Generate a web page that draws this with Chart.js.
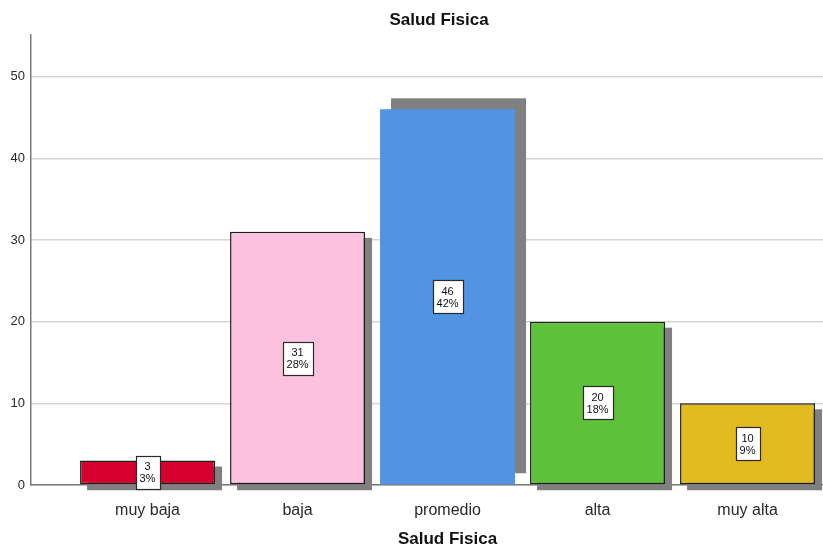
<!DOCTYPE html>
<html>
<head>
<meta charset="utf-8">
<title>Salud Fisica</title>
<script src="https://cdn.jsdelivr.net/npm/chart.js@4/dist/chart.umd.min.js"></script>
<style>
  html, body { margin: 0; padding: 0; background: #ffffff; }
  canvas { display: block; }
</style>
</head>
<body>
<canvas id="c" width="823" height="549"></canvas>
<script>
// Frequencies of the "Salud Fisica" variable
const categories = ['muy baja', 'baja', 'promedio', 'alta', 'muy alta'];
const counts = [3, 31, 46, 20, 10];
const yTicks = [0, 10, 20, 30, 40, 50];
const chartTitle = 'Salud Fisica';
const xAxisTitle = 'Salud Fisica';

// Styling
const barColors = ['#D6002F', '#FDC1E0', '#5393E3', '#5DC239', '#E1BB1F'];
const barBorderWidths = [1.5, 1.5, 0, 1.5, 1.5];
const shadowOffsets = [[7, 6], [7, 6], [11, -11], [7, 6], [7, 6]];
const FONT = '"Liberation Sans", Arial, Helvetica, sans-serif';

const total = counts.reduce((a, b) => a + b, 0);
const percentLabels = counts.map(c => Math.round(c / total * 100) + '%');
const points = categories.map((_, i) => ({ x: i, y: counts[i] }));

// Gray drop shadow behind every bar
const barShadows = {
  id: 'barShadows',
  beforeDatasetsDraw(chart) {
    const ctx = chart.ctx;
    const meta = chart.getDatasetMeta(0);
    ctx.save();
    ctx.fillStyle = '#808080';
    meta.data.forEach((el, i) => {
      const p = el.getProps(['x', 'y', 'base', 'width'], true);
      const [dx, dy] = shadowOffsets[i];
      ctx.fillRect(p.x - p.width / 2 + dx, p.y + dy, p.width, p.base - p.y);
    });
    ctx.restore();
  }
};

// Boxed count / percent labels in the middle of each bar
const valueBoxes = {
  id: 'valueBoxes',
  afterDatasetsDraw(chart) {
    const ctx = chart.ctx;
    const meta = chart.getDatasetMeta(0);
    ctx.save();
    ctx.font = '11px ' + FONT;
    ctx.textAlign = 'center';
    ctx.textBaseline = 'middle';
    const lh = 12;
    meta.data.forEach((el, i) => {
      const p = el.getProps(['x', 'y', 'base'], true);
      const cy = (p.y + p.base) / 2;
      const l1 = String(counts[i]);
      const l2 = percentLabels[i];
      const w = Math.max(ctx.measureText(l1).width, ctx.measureText(l2).width) + 8;
      const h = lh * 2 + 9;
      const bx = Math.round(p.x - w / 2) + 0.5;
      const by = Math.round(cy - h / 2) + 0.5;
      ctx.fillStyle = '#ffffff';
      ctx.fillRect(bx, by, Math.round(w), h);
      ctx.strokeStyle = '#2a2a2a';
      ctx.lineWidth = 1.2;
      ctx.strokeRect(bx, by, Math.round(w), h);
      ctx.fillStyle = '#111111';
      ctx.fillText(l1, p.x, cy - lh / 2 + 1);
      ctx.fillText(l2, p.x, cy + lh / 2 + 1);
    });
    ctx.restore();
  }
};

// Chart title and horizontal axis title
const titles = {
  id: 'titles',
  afterDraw(chart) {
    const ctx = chart.ctx;
    const area = chart.chartArea;
    const xs = chart.scales.x;
    ctx.save();
    ctx.fillStyle = '#111111';
    ctx.font = 'bold 17px ' + FONT;
    ctx.textAlign = 'center';
    ctx.textBaseline = 'middle';
    ctx.fillText(chartTitle, (area.left + area.right) / 2 + 12, 20);
    ctx.fillText(xAxisTitle, xs.getPixelForValue((categories.length - 1) / 2), 539);
    ctx.restore();
  }
};

new Chart(document.getElementById('c'), {
  type: 'bar',
  data: {
    datasets: [{
      data: points,
      backgroundColor: barColors,
      borderColor: '#1e1e1e',
      borderWidth: barBorderWidths,
      borderSkipped: false,
      barPercentage: 0.9,
      categoryPercentage: 1
    }]
  },
  options: {
    responsive: false,
    animation: false,
    layout: { padding: { top: 35, left: 0, right: 0, bottom: 0 } },
    plugins: {
      legend: { display: false },
      tooltip: { enabled: false },
      title: { display: false }
    },
    scales: {
      x: {
        type: 'linear',
        offset: false,
        min: -0.777,
        max: 4.503,
        grid: { display: false },
        border: { display: true, color: '#7a7a7a', width: 1.5 },
        afterBuildTicks: s => { s.ticks = categories.map((_, i) => ({ value: i })); },
        afterFit: s => { s.height = 64; },
        ticks: {
          autoSkip: false,
          maxRotation: 0,
          padding: 8,
          color: '#2a2a2a',
          font: { family: FONT, size: 16 },
          callback: v => categories[v] ?? ''
        }
      },
      y: {
        min: 0,
        max: 55.1,
        afterBuildTicks: s => { s.ticks = yTicks.map(v => ({ value: v })); },
        afterFit: s => { s.width = 31; },
        grid: { color: '#d6d6d6', lineWidth: 1.5, drawTicks: false },
        border: { display: true, color: '#7a7a7a', width: 1.5 },
        ticks: {
          padding: 6,
          color: '#2a2a2a',
          font: { family: FONT, size: 13 }
        }
      }
    }
  },
  plugins: [barShadows, valueBoxes, titles]
});
</script>
</body>
</html>
